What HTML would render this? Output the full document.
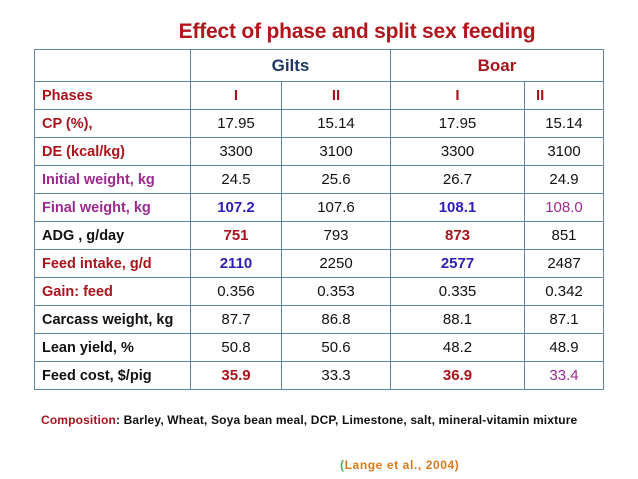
<!DOCTYPE html>
<html><head><meta charset="utf-8"><style>
body{margin:0;width:638px;height:479px;background:#fff;position:relative;overflow:hidden;font-family:"Liberation Sans",sans-serif}
#title{position:absolute;left:0;width:714px;top:20px;text-align:center;font-size:21px;font-weight:bold;color:#b0161c;letter-spacing:-0.2px}
table{position:absolute;left:34px;top:49px;border-collapse:collapse;table-layout:fixed}
td{border:1px solid #5f84ad;height:27px;padding:0;text-align:center;font-size:15px;color:#111}
td.l{text-align:left;padding-left:7px;font-weight:bold;font-size:14.5px}
tr.h td{height:31px}
.r{color:#a8141c}.p{color:#9c2a8c}.b{color:#2c1fb5}.k{color:#111}
.bd{font-weight:bold}
#comp{position:absolute;left:41px;top:413px;font-size:12px;font-weight:bold;color:#111;letter-spacing:0.15px}
#ref{position:absolute;left:340px;top:458px;font-size:12px;font-weight:bold;color:#d67a1e;letter-spacing:0.6px}
</style></head><body>
<div id="title">Effect of phase and split sex feeding</div>
<table>
<colgroup><col style="width:156px"><col style="width:91px"><col style="width:109px"><col style="width:134px"><col style="width:79px"></colgroup>
<tr class="h"><td></td><td colspan="2" class="bd" style="color:#1f3864;font-size:17px">Gilts</td><td colspan="2" class="bd r" style="font-size:17px">Boar</td></tr>
<tr><td class="l r">Phases</td><td class="r bd">I</td><td class="r bd">II</td><td class="r bd">I</td><td class="r bd" style="text-align:left;padding-left:11px">II</td></tr>
<tr><td class="l r">CP (%),</td><td>17.95</td><td>15.14</td><td>17.95</td><td>15.14</td></tr>
<tr><td class="l r">DE (kcal/kg)</td><td>3300</td><td>3100</td><td>3300</td><td>3100</td></tr>
<tr><td class="l p">Initial weight, kg</td><td>24.5</td><td>25.6</td><td>26.7</td><td>24.9</td></tr>
<tr><td class="l p">Final weight, kg</td><td class="b bd">107.2</td><td>107.6</td><td class="b bd">108.1</td><td class="p">108.0</td></tr>
<tr><td class="l k">ADG , g/day</td><td class="r bd">751</td><td>793</td><td class="r bd">873</td><td>851</td></tr>
<tr><td class="l r">Feed intake, g/d</td><td class="b bd">2110</td><td>2250</td><td class="b bd">2577</td><td>2487</td></tr>
<tr><td class="l r">Gain: feed</td><td>0.356</td><td>0.353</td><td>0.335</td><td>0.342</td></tr>
<tr><td class="l k">Carcass weight, kg</td><td>87.7</td><td>86.8</td><td>88.1</td><td>87.1</td></tr>
<tr><td class="l k">Lean yield, %</td><td>50.8</td><td>50.6</td><td>48.2</td><td>48.9</td></tr>
<tr><td class="l k">Feed cost, $/pig</td><td class="r bd">35.9</td><td>33.3</td><td class="r bd">36.9</td><td class="p">33.4</td></tr>
</table>
<div id="comp"><span style="color:#a8141c">Composition</span>: Barley, Wheat, Soya bean meal, DCP, Limestone, salt, mineral-vitamin mixture</div>
<div id="ref"><span style="color:#4caf50">(</span>Lange et al.,  2004)</div>
</body></html>
